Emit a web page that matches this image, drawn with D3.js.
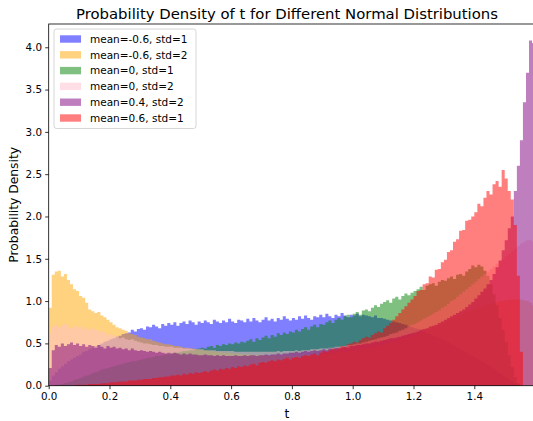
<!DOCTYPE html>
<html><head><meta charset="utf-8">
<script src="https://cdn.jsdelivr.net/npm/d3@7"></script>
<style>body{margin:0;background:#fff}svg{display:block;font-family:"DejaVu Sans",sans-serif}</style>
</head><body><svg id="chart" width="533" height="421"></svg>
<script>
// ---- data ----
const binStart = 0.0;
const binWidth = 0.01;
const seriesLabels = ["mean=-0.6, std=1","mean=-0.6, std=2","mean=0, std=1","mean=0, std=2","mean=0.4, std=2","mean=0.6, std=1"];
const seriesColors = ["blue","orange","green","pink","purple","red"];
const xTicks = [0.0,0.2,0.4,0.6,0.8,1.0,1.2,1.4];
const yTicks = [0.0,0.5,1.0,1.5,2.0,2.5,3.0,3.5,4.0];

const blueVals = [0.06,0.12,0.16,0.20,0.23,0.26,0.29,0.31,0.33,0.35,
0.37,0.40,0.41,0.43,0.45,0.47,0.48,0.50,0.52,0.53,
0.55,0.56,0.58,0.59,0.61,0.62,0.63,0.66,0.64,0.67,
0.68,0.66,0.70,0.69,0.72,0.70,0.68,0.73,0.71,0.74,
0.72,0.75,0.71,0.74,0.76,0.73,0.77,0.75,0.72,0.76,
0.74,0.77,0.75,0.73,0.78,0.76,0.74,0.77,0.75,0.79,
0.76,0.74,0.78,0.77,0.75,0.79,0.76,0.80,0.77,0.75,
0.78,0.81,0.77,0.79,0.76,0.80,0.78,0.82,0.79,0.77,
0.80,0.78,0.82,0.79,0.83,0.80,0.78,0.82,0.81,0.84,
0.81,0.85,0.82,0.80,0.84,0.82,0.86,0.83,0.81,0.84,
0.83,0.85,0.82,0.84,0.83,0.82,0.81,0.83,0.80,0.80,
0.79,0.78,0.77,0.76,0.75,0.74,0.73,0.72,0.70,0.69,
0.68,0.67,0.65,0.64,0.62,0.61,0.59,0.58,0.56,0.54,
0.53,0.51,0.49,0.47,0.45,0.43,0.41,0.39,0.37,0.35,
0.33,0.31,0.29,0.27,0.25,0.22,0.20,0.17,0.15,0.12,
0.10,0.07,0.05,0.03,0.01,0,0,0,0,0];

const orangeVals = [0.92,1.31,1.35,1.36,1.29,1.32,1.25,1.20,1.14,1.12,
1.06,1.04,0.98,0.90,0.88,0.86,0.87,0.83,0.81,0.78,
0.75,0.72,0.69,0.68,0.66,0.65,0.62,0.61,0.60,0.58,
0.57,0.56,0.55,0.55,0.53,0.52,0.51,0.50,0.49,0.49,
0.48,0.47,0.47,0.46,0.45,0.45,0.44,0.44,0.43,0.43,
0.42,0.42,0.41,0.41,0.40,0.40,0.40,0.39,0.39,0.39,
0.38,0.38,0.38,0.37,0.37,0.37,0.37,0.36,0.36,0.36,
0.36,0.36,0.35,0.35,0.36,0.35,0.35,0.36,0.35,0.35,
0.35,0.36,0.35,0.36,0.36,0.36,0.37,0.36,0.37,0.37,
0.37,0.38,0.38,0.38,0.39,0.39,0.40,0.40,0.41,0.41,
0.42,0.42,0.43,0.44,0.44,0.45,0.46,0.47,0.47,0.48,
0.49,0.50,0.51,0.52,0.53,0.54,0.55,0.56,0.57,0.59,
0.60,0.61,0.63,0.64,0.66,0.67,0.69,0.70,0.72,0.74,
0.75,0.77,0.79,0.80,0.82,0.84,0.85,0.87,0.88,0.90,
0.91,0.92,0.93,0.95,0.96,0.97,0.98,0.99,1.00,1.00,
1.01,1.01,1.02,1.02,1.02,1.02,1.01,1.00,0.98,0.95];

const greenVals = [0,0,0.01,0.01,0.02,0.03,0.04,0.05,0.07,0.08,
0.09,0.11,0.12,0.13,0.15,0.16,0.17,0.19,0.20,0.21,
0.22,0.23,0.24,0.25,0.26,0.27,0.28,0.29,0.29,0.30,
0.31,0.32,0.33,0.33,0.34,0.35,0.35,0.36,0.37,0.37,
0.38,0.39,0.39,0.40,0.41,0.41,0.42,0.42,0.43,0.44,
0.45,0.44,0.46,0.47,0.45,0.48,0.47,0.49,0.48,0.50,
0.49,0.51,0.50,0.52,0.51,0.53,0.55,0.52,0.56,0.54,
0.57,0.59,0.56,0.60,0.58,0.62,0.60,0.63,0.61,0.64,
0.63,0.66,0.64,0.67,0.69,0.66,0.70,0.72,0.69,0.73,
0.72,0.75,0.77,0.74,0.78,0.80,0.78,0.82,0.84,0.81,
0.85,0.87,0.84,0.89,0.90,0.88,0.92,0.95,0.93,0.97,
0.99,1.01,0.98,1.03,1.05,1.02,1.06,1.09,1.07,1.10,
1.12,1.14,1.17,1.13,1.18,1.20,1.21,1.18,1.23,1.25,
1.24,1.27,1.29,1.26,1.31,1.32,1.30,1.35,1.38,1.42,
1.40,1.43,1.41,1.36,1.30,1.20,1.08,0.95,0.80,0.66,
0.52,0.36,0.22,0.10,0.03,0,0,0,0,0];

const pinkVals = [0.62,0.70,0.72,0.69,0.71,0.73,0.70,0.68,0.71,0.69,
0.70,0.67,0.69,0.66,0.68,0.66,0.64,0.65,0.63,0.60,
0.61,0.59,0.58,0.56,0.57,0.55,0.54,0.55,0.53,0.52,
0.51,0.50,0.50,0.49,0.48,0.48,0.47,0.47,0.46,0.46,
0.46,0.45,0.45,0.45,0.44,0.44,0.44,0.43,0.43,0.43,
0.43,0.42,0.42,0.42,0.42,0.41,0.41,0.41,0.41,0.41,
0.41,0.40,0.40,0.40,0.40,0.40,0.40,0.40,0.40,0.40,
0.40,0.40,0.40,0.40,0.40,0.41,0.40,0.41,0.41,0.41,
0.41,0.42,0.41,0.42,0.42,0.42,0.43,0.43,0.43,0.44,
0.44,0.44,0.45,0.45,0.46,0.46,0.47,0.47,0.48,0.48,
0.49,0.50,0.50,0.51,0.52,0.53,0.54,0.55,0.56,0.57,
0.58,0.59,0.61,0.62,0.63,0.65,0.66,0.68,0.70,0.72,
0.73,0.75,0.77,0.79,0.81,0.83,0.85,0.87,0.89,0.92,
0.94,0.97,1.00,1.02,1.05,1.08,1.11,1.14,1.17,1.20,
1.23,1.26,1.29,1.32,1.35,1.38,1.41,1.44,1.47,1.50,
1.53,1.56,1.59,1.62,1.65,1.68,1.70,1.72,1.72,1.70];

const purpleVals = [0.21,0.42,0.48,0.46,0.50,0.47,0.49,0.51,0.48,0.50,
0.47,0.49,0.46,0.48,0.47,0.45,0.48,0.46,0.44,0.47,
0.45,0.46,0.44,0.45,0.43,0.44,0.42,0.44,0.42,0.41,
0.42,0.41,0.40,0.41,0.40,0.39,0.40,0.39,0.38,0.39,
0.38,0.39,0.38,0.37,0.38,0.37,0.38,0.37,0.37,0.36,
0.36,0.37,0.36,0.36,0.35,0.36,0.35,0.36,0.35,0.35,
0.35,0.36,0.35,0.35,0.36,0.35,0.36,0.36,0.35,0.36,
0.36,0.37,0.36,0.37,0.37,0.38,0.37,0.38,0.38,0.39,
0.39,0.40,0.39,0.40,0.41,0.40,0.41,0.42,0.41,0.42,
0.43,0.42,0.44,0.43,0.45,0.44,0.45,0.46,0.45,0.47,
0.47,0.48,0.48,0.49,0.50,0.50,0.51,0.52,0.52,0.53,
0.54,0.55,0.56,0.56,0.57,0.58,0.59,0.60,0.61,0.62,
0.63,0.64,0.66,0.67,0.68,0.70,0.71,0.72,0.74,0.76,
0.78,0.80,0.82,0.84,0.86,0.88,0.90,0.93,0.96,0.99,
1.03,1.07,1.11,1.15,1.20,1.25,1.32,1.40,1.48,1.60,
1.72,1.86,2.00,2.30,2.60,2.90,3.35,3.70,4.08,4.05];

const redVals = [0,0,0,0,0,0,0,0,0,0.01,
0.01,0.01,0.01,0.02,0.02,0.02,0.02,0.03,0.03,0.03,
0.04,0.04,0.04,0.05,0.05,0.05,0.06,0.06,0.06,0.07,
0.07,0.08,0.08,0.08,0.09,0.09,0.10,0.10,0.11,0.11,
0.12,0.12,0.13,0.12,0.14,0.13,0.15,0.14,0.16,0.15,
0.16,0.17,0.16,0.18,0.19,0.18,0.20,0.19,0.21,0.20,
0.22,0.21,0.23,0.22,0.24,0.23,0.25,0.26,0.24,0.27,
0.28,0.27,0.29,0.30,0.29,0.31,0.30,0.32,0.33,0.31,
0.33,0.34,0.33,0.35,0.36,0.35,0.37,0.38,0.36,0.39,
0.41,0.40,0.42,0.44,0.43,0.45,0.47,0.46,0.49,0.50,
0.52,0.51,0.54,0.56,0.58,0.57,0.60,0.62,0.64,0.63,
0.68,0.71,0.74,0.78,0.82,0.86,0.90,0.94,0.98,1.02,
1.06,1.12,1.13,1.20,1.21,1.29,1.28,1.37,1.38,1.46,
1.49,1.58,1.60,1.70,1.73,1.83,1.84,1.95,1.96,2.00,
2.05,2.15,2.12,2.22,2.30,2.26,2.38,2.42,2.35,2.55,
2.45,2.30,2.20,1.90,1.30,0.40,0,0,0,0];

const seriesValues = [blueVals, orangeVals, greenVals, pinkVals, purpleVals, redVals];

// ---- layout ----
const svg = d3.select("#chart");
const L = 48.7, R = 535.1, T = 24, B = 385.7;
const x = d3.scaleLinear().domain([0, 1.6]).range([L, R]);
const y = d3.scaleLinear().domain([0, 4.275]).range([B, T]);

svg.append("defs").append("clipPath").attr("id","plotclip")
  .append("rect").attr("x",L).attr("y",T).attr("width",R-L).attr("height",B-T);

const area = d3.area()
  .x(d => x(d.t)).y0(y(0)).y1(d => y(d.v))
  .curve(d3.curveStepAfter);

const gBars = svg.append("g").attr("clip-path","url(#plotclip)");
seriesValues.forEach((vals, si) => {
  const pts = vals.map((v, i) => ({t: binStart + i*binWidth, v}));
  pts.push({t: binStart + vals.length*binWidth, v: vals[vals.length-1]});
  gBars.append("path").datum(pts)
    .attr("d", area)
    .attr("fill", seriesColors[si])
    .attr("fill-opacity", 0.5);
});

// axes
const xAxis = d3.axisBottom(x).tickValues(xTicks).tickFormat(d3.format(".1f")).tickSize(3.5).tickPadding(3.2);
const yAxis = d3.axisLeft(y).tickValues(yTicks).tickFormat(d3.format(".1f")).tickSize(3.5).tickPadding(3.2);
const gx = svg.append("g").attr("transform",`translate(0,${B})`).call(xAxis);
const gy = svg.append("g").attr("transform",`translate(${L},0)`).call(yAxis);
[gx, gy].forEach(g => {
  g.select(".domain").remove();
  g.selectAll(".tick line").attr("stroke","#000").attr("stroke-width",0.8);
  g.selectAll(".tick text").attr("fill","#000").style("font-size","10.3px").style("font-family","DejaVu Sans");
});
// spines
svg.append("rect").attr("x",L).attr("y",T).attr("width",R-L).attr("height",B-T)
  .attr("fill","none").attr("stroke","#000").attr("stroke-width",0.8);

// title and labels
const title = svg.append("text").attr("x",287).attr("y",18.5).attr("text-anchor","middle")
  .style("font-size","14px").attr("fill","#000")
  .text("Probability Density of t for Different Normal Distributions");
const tw = title.node().getComputedTextLength();
if (tw > 0) title.style("font-size", (14 * 422 / tw).toFixed(2) + "px");

svg.append("text").attr("x",287).attr("y",417.5).attr("text-anchor","middle")
  .style("font-size","12.3px").attr("fill","#000").text("t");
svg.append("text").attr("transform",`translate(17.5,${(T+B)/2}) rotate(-90)`)
  .attr("text-anchor","middle").style("font-size","12.3px").attr("fill","#000")
  .text("Probability Density");

// legend
const lg = svg.append("g");
const lx = 54, ly = 29, lw = 142, rowH = 15.8;
lg.append("rect").attr("x",lx).attr("y",ly).attr("width",lw).attr("height",99.5)
  .attr("rx",2.5).attr("fill","#fff").attr("fill-opacity",0.8)
  .attr("stroke","#ccc").attr("stroke-width",0.8);
seriesLabels.forEach((lab, i) => {
  const cy = ly + 10 + i*rowH;
  lg.append("rect").attr("x",lx+6).attr("y",cy-3.7).attr("width",21).attr("height",7.4)
    .attr("fill",seriesColors[i]).attr("fill-opacity",0.5);
  lg.append("text").attr("x",lx+36).attr("y",cy).attr("dy","0.36em")
    .style("font-size","10.5px").attr("fill","#000").text(lab);
});
</script></body></html>
